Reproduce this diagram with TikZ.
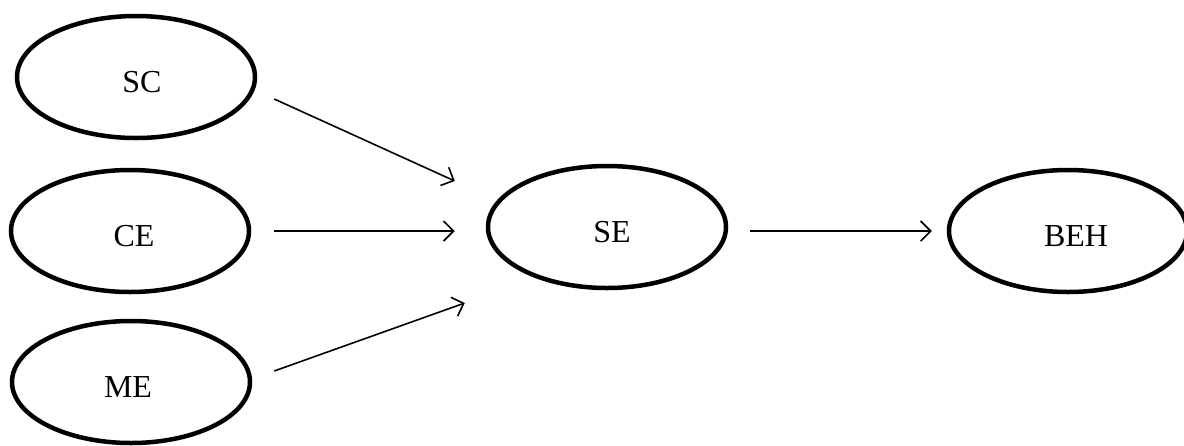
\documentclass[tikz,border=0pt]{standalone}
\usepackage{fontspec}
\setmainfont{Liberation Serif}
\usetikzlibrary{shapes.geometric,arrows.meta}
\begin{document}
\begin{tikzpicture}[x=1pt,y=-1pt,
  oval/.style={draw, ellipse, line width=4.5pt, minimum width=238pt, minimum height=122pt, inner sep=0pt, text height=30pt, text depth=0pt, font=\fontsize{32}{38}\selectfont},
  arr/.style={line width=1.6pt, -{Straight Barb[length=10pt,width=20pt,line width=1.6pt]}}]
\useasboundingbox (0,0) rectangle (1184,445);
\node[oval] (sc) at (136,77) {\hspace*{12pt}SC};
\node[oval] (ce) at (130,231) {\hspace*{8pt}CE};
\node[oval] (me) at (131,382) {ME\hspace*{6pt}};
\node[oval] (se) at (607,227) {\hspace*{10pt}SE};
\node[oval] (beh) at (1068,231) {\hspace*{16pt}BEH};
\draw[arr] ([xshift=17pt,yshift=-22pt]sc.east) -- ([xshift=-31pt,yshift=46pt]se.west);
\draw[arr] ([xshift=23pt]ce.east) -- ([xshift=-31pt]ce.east -| se.west);
\draw[arr] ([xshift=22pt,yshift=11pt]me.east) -- ([xshift=-21pt,yshift=-76pt]se.west);
\draw[arr] ([xshift=22pt,yshift=-4pt]se.east) -- ([xshift=-15pt]beh.west);
\end{tikzpicture}
\end{document}
